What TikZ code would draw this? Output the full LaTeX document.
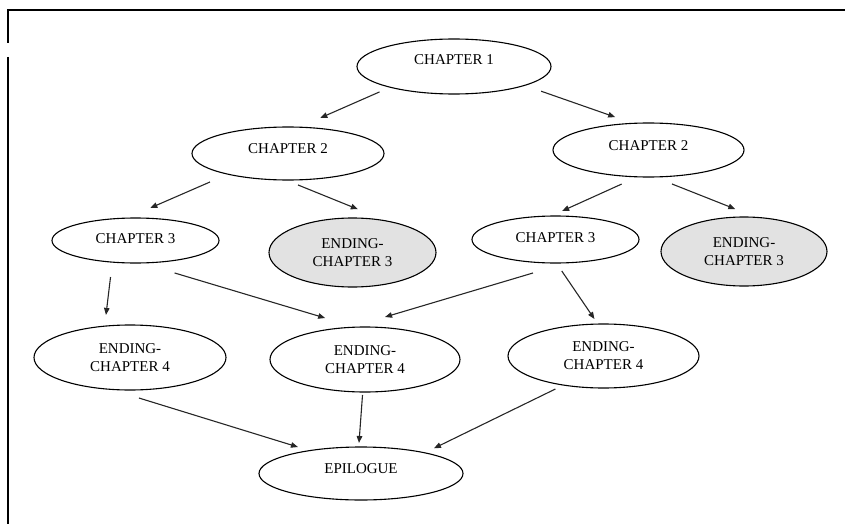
\documentclass[tikz,border=0pt]{standalone}
\usepackage{fontspec}
\setmainfont{Liberation Serif}
\usetikzlibrary{shapes.geometric,arrows.meta}
\definecolor{endgray}{RGB}{226,226,226}
\newcommand{\uptext}[2]{\raisebox{#1}[0pt][0pt]{#2}}
\begin{document}
\begin{tikzpicture}[x=1pt,y=-1pt,
  chap/.style={ellipse, draw=black, line width=1.1pt, inner sep=0pt, outer sep=0pt,
    font=\fontsize{15}{18}\selectfont, align=center},
  ending/.style={chap, fill=endgray},
  frame/.style={line width=1.4pt, draw=black},
  arr/.style={-{Triangle[length=7pt,width=5.5pt]}, line width=1.1pt, draw=black!85}]
\useasboundingbox (0,0) rectangle (845,524);
\draw[frame] (8,43) -- (8,10) -- (845,10);
\draw[frame] (8,57) -- (8,524);

\node[chap, minimum width=194pt, minimum height=55pt] (ch1) at (454,66.5) {\uptext{2pt}{CHAPTER 1}};
\node[chap, minimum width=192pt, minimum height=53pt] (ch2l) at (288,153.5) {\uptext{0pt}{CHAPTER 2}};
\node[chap, minimum width=191pt, minimum height=54pt] (ch2r) at (648.5,150) {\uptext{0pt}{CHAPTER 2}};
\node[chap, minimum width=167pt, minimum height=45pt] (ch3l) at (135.5,240.5) {\uptext{-2.7pt}{CHAPTER 3}};
\node[ending, minimum width=167pt, minimum height=69pt] (ec3l) at (352.5,252.5) {ENDING-\\CHAPTER 3};
\node[chap, minimum width=167pt, minimum height=47pt] (ch3r) at (555.5,239.5) {\uptext{-2.7pt}{CHAPTER 3}};
\node[ending, minimum width=166pt, minimum height=69pt] (ec3r) at (744,251.5) {ENDING-\\CHAPTER 3};
\node[chap, minimum width=192pt, minimum height=65pt] (ec4l) at (130,357.5) {ENDING-\\CHAPTER 4};
\node[chap, minimum width=190pt, minimum height=65pt] (ec4m) at (365,359.5) {ENDING-\\CHAPTER 4};
\node[chap, minimum width=191pt, minimum height=64pt] (ec4r) at (603.5,356) {ENDING-\\CHAPTER 4};
\node[chap, minimum width=204pt, minimum height=53pt] (epi) at (361,473.5) {\uptext{0pt}{EPILOGUE}};

\draw[arr, shorten <=11.7pt, shorten >=23.1pt] (ch1.198.2) -- (ch2l.67.7);
\draw[arr, shorten <=17.6pt, shorten >=19.0pt] (ch1.345.4) -- (ch2r.120.4);
\draw[arr, shorten <=19.6pt, shorten >=25.5pt] (ch2l.199.0) -- (ch3l.111.6);
\draw[arr, shorten <=13.3pt, shorten >=31.8pt] (ch2l.265.0) -- (ec3l.42.9);
\draw[arr, shorten <=17.5pt, shorten >=12.3pt] (ch2r.248.5) -- (ch3r.101.3);
\draw[arr, shorten <=19.1pt, shorten >=22.7pt] (ch2r.282.0) -- (ec3r.70.5);
\draw[arr, shorten <=15.0pt, shorten >=11.3pt] (ch3l.223.8) -- (ec4l.129.1);
\draw[arr, shorten <=35.0pt, shorten >=31.9pt] (ch3l.284.9) -- (ec4m.106.3);
\draw[arr, shorten <=35.9pt, shorten >=36.5pt] (ch3r.297.2) -- (ec4m.115.1);
\draw[arr, shorten <=9.6pt, shorten >=6.1pt] (ch3r.272.9) -- (ec4r.100.8);
\draw[arr, shorten <=29.4pt, shorten >=12.2pt] (ec4l.239.1) -- (epi.156.0);
\draw[arr, shorten <=3.0pt, shorten >=4.0pt] (ec4m.266.9) -- (epi.95.0);
\draw[arr, shorten <=9.0pt, shorten >=10.3pt] (ec4r.216.5) -- (epi.18.9);
\end{tikzpicture}
\end{document}
